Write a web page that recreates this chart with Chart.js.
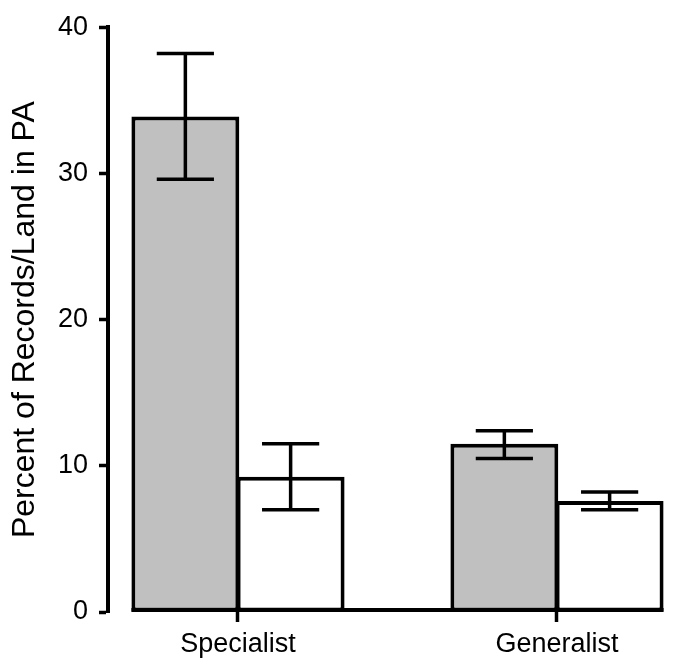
<!DOCTYPE html>
<html>
<head>
<meta charset="utf-8">
<script src="https://cdn.jsdelivr.net/npm/chart.js@4"></script>
<style>
  body { margin: 0; background: #fff; }
  #wrap { width: 673px; height: 663px; }
</style>
</head>
<body>
<div id="wrap"><canvas id="chart" width="673" height="663"></canvas></div>
<script>
const categories = ["Specialist", "Generalist"]
const records = [33.9, 11.5]
const recordsHigh = [38.2, 12.4]
const recordsLow = [29.6, 10.5]
const land = [9.25, 7.6]
const landHigh = [11.5, 8.2]
const landLow = [7.0, 7.0]
const yTicks = [0, 10, 20, 30, 40]

const font = "'Liberation Sans', Arial, sans-serif"

// horizontal baseline running under the bars only
const baseline = {
    id: "baseline",
    afterDatasetsDraw(chart) {
        const ctx = chart.ctx
        let left = Infinity, right = -Infinity
        chart.data.datasets.forEach((ds, i) => {
            chart.getDatasetMeta(i).data.forEach(bar => {
                left = Math.min(left, bar.x - bar.width / 2)
                right = Math.max(right, bar.x + bar.width / 2)
            })
        })
        const y = chart.scales.y.getPixelForValue(0) - 2
        ctx.save()
        ctx.strokeStyle = "#000"
        ctx.lineWidth = 4
        ctx.beginPath()
        ctx.moveTo(left, y)
        ctx.lineTo(right, y)
        ctx.stroke()
        ctx.restore()
    }
}

const errorBars = {
    id: "errorBars",
    afterDatasetsDraw(chart) {
        const ctx = chart.ctx
        const yScale = chart.scales.y
        ctx.save()
        ctx.strokeStyle = "#000"
        ctx.lineWidth = 3.5
        ctx.lineCap = "butt"
        chart.data.datasets.forEach((ds, i) => {
            chart.getDatasetMeta(i).data.forEach((bar, j) => {
                const hi = yScale.getPixelForValue(ds.high[j])
                const lo = yScale.getPixelForValue(ds.low[j])
                const half = bar.width * 0.265
                ctx.beginPath()
                ctx.moveTo(bar.x, hi)
                ctx.lineTo(bar.x, lo)
                ctx.moveTo(bar.x - half, hi)
                ctx.lineTo(bar.x + half, hi)
                ctx.moveTo(bar.x - half, lo)
                ctx.lineTo(bar.x + half, lo)
                ctx.stroke()
            })
        })
        ctx.restore()
    }
}

const pts = arr => arr.map((v, i) => ({x: i, y: v}))

new Chart(document.getElementById("chart"), {
    type: "bar",
    data: {
        datasets: [{
            data: pts(records),
            high: recordsHigh,
            low: recordsLow,
            backgroundColor: "#c0c0c0",
            borderColor: "#000",
            borderWidth: 4,
            borderSkipped: false
        }, {
            data: pts(land),
            high: landHigh,
            low: landLow,
            backgroundColor: "#fff",
            borderColor: "#000",
            borderWidth: 4,
            borderSkipped: false
        }]
    },
    options: {
        responsive: false,
        animation: false,
        layout: {padding: {left: 0, right: 5, top: 22, bottom: 0}},
        categoryPercentage: 0.66,
        barPercentage: 1.025,
        plugins: {
            legend: {display: false},
            tooltip: {enabled: false}
        },
        scales: {
            x: {
                type: "linear",
                offset: false,
                min: -0.4075,
                max: 1.348,
                afterFit: s => { s.height = 51 },
                afterBuildTicks: s => { s.ticks = categories.map((c, i) => ({value: i})) },
                ticks: {
                    includeBounds: false,
                    color: "#000",
                    padding: 6,
                    font: {family: font, size: 27},
                    callback: v => categories[v]
                },
                grid: {
                    offset: false,
                    drawOnChartArea: false,
                    drawTicks: true,
                    tickLength: 10,
                    tickWidth: 3.5,
                    tickColor: "#000"
                },
                border: {display: false}
            },
            y: {
                min: 0,
                max: 40,
                afterFit: s => { s.width = 108 },
                afterBuildTicks: s => { s.ticks = yTicks.map(v => ({value: v})) },
                ticks: {
                    color: "#000",
                    padding: 11,
                    font: {family: font, size: 27}
                },
                grid: {
                    drawOnChartArea: false,
                    drawTicks: true,
                    tickLength: 9,
                    tickWidth: 3.5,
                    tickColor: "#000"
                },
                border: {display: true, color: "#000", width: 4},
                title: {
                    display: true,
                    text: "Percent of Records/Land in PA",
                    color: "#000",
                    padding: {top: 6, bottom: 0},
                    font: {family: font, size: 32, weight: "normal"}
                }
            }
        }
    },
    plugins: [baseline, errorBars]
})
</script>
</body>
</html>
